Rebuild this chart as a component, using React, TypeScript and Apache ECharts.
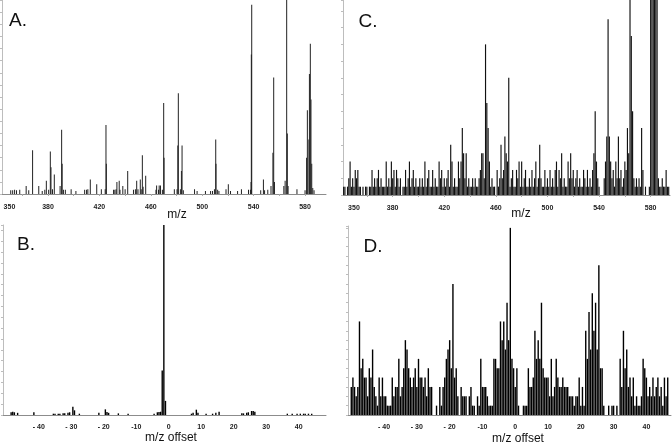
import React, { useEffect, useRef } from 'react';
import * as echarts from 'echarts';

// Panel A: [m/z, intensity]
const aPeaks: [number, number][] = [
  [351, 3], [352.5, 3], [354, 3.5], [355.5, 3], [358, 3.5],
  [363, 6.5], [365, 3], [368, 36], [372.8, 6.5], [375.5, 2.5],
  [377.5, 3.5], [378.7, 11], [380.5, 3.5], [381.8, 35], [382.3, 22], [383.5, 4], [384.9, 16],
  [389.4, 6.5], [390.6, 53], [391, 25], [392, 3.5], [393.5, 3.5],
  [398, 4], [401.7, 2.5], [408.5, 3.5], [410, 3.5], [411, 4], [412.9, 12],
  [417.9, 8], [421.5, 4], [424.5, 4], [425.1, 57], [425.4, 25],
  [431, 3.5], [432, 3.5], [433, 4], [433.6, 10], [435.4, 11], [436, 3.5], [438.2, 6.5], [440, 4], [442, 19],
  [446.5, 3.5], [448, 4], [449, 11], [450, 4], [451.8, 12], [452.5, 4], [453.4, 32], [454, 6], [456, 15],
  [464, 3.5], [464.5, 7], [466, 3.5], [466.5, 7], [467.5, 7], [469, 3.5], [470, 75], [470.3, 30],
  [478.3, 4], [480.4, 4], [481, 40], [481.4, 83], [483, 4], [483.8, 19], [484.3, 40], [485.3, 3],
  [494, 4], [496, 2.5], [502.5, 2.5],
  [506.5, 2.5], [508, 2.5], [509.5, 4], [510.5, 45], [510.7, 25], [512, 3.5], [513, 2.5],
  [518.5, 4], [520.3, 8], [522, 2.5], [527.5, 2.5], [530.5, 4],
  [536, 3.5], [537.5, 3.5], [538, 10], [538.2, 115], [538.5, 156],
  [545.5, 3], [547.6, 12], [548.5, 3],
  [551, 3.5], [553.5, 6.5], [555, 34], [555.6, 96], [556.2, 10],
  [563.5, 6.5], [564.5, 11], [565.7, 170], [566.2, 50], [566.8, 6.5],
  [573.7, 4],
  [580, 3], [581.2, 30], [581.8, 69], [583, 45], [583.4, 99], [584.1, 124], [584.6, 78], [585.2, 25], [586, 5], [587, 3],
];

// Panel C: counts per integer m/z starting at cStart
const cStart = 342;
const cCounts = [
  1, 1, 0, 1, 2, 4, 1, 2, 1, 3,
  2, 3, 1, 1, 0, 1, 0, 1, 1, 0,
  1, 1, 3, 1, 2, 1, 2, 3, 1, 2,
  1, 1, 1, 4, 1, 2, 1, 4, 2, 3,
  1, 3, 2, 1, 2, 0, 1, 1, 3, 1,
  2, 4, 1, 2, 3, 1, 2, 1, 1, 2,
  1, 2, 1, 4, 1, 2, 3, 1, 1, 3,
  1, 2, 1, 1, 4, 2, 3, 1, 2, 1,
  2, 3, 1, 6, 4, 1, 2, 1, 1, 4,
  2, 4, 8, 5, 2, 5, 1, 2, 1, 1,
  2, 1, 2, 1, 1, 2, 3, 5, 5, 2,
  18, 11, 8, 4, 1, 2, 1, 1, 0, 3,
  1, 2, 6, 2, 3, 7, 5, 4, 14, 1,
  2, 3, 1, 1, 3, 2, 4, 1, 4, 1,
  2, 3, 1, 1, 2, 1, 3, 1, 2, 4,
  1, 2, 6, 2, 1, 1, 3, 1, 2, 1,
  3, 1, 2, 1, 3, 4, 1, 3, 2, 5,
  1, 2, 1, 1, 4, 2, 5, 2, 3, 1,
  2, 3, 1, 2, 1, 1, 3, 2, 1, 3,
  1, 2, 1, 3, 5, 10, 4, 2, 1, 0,
  0, 0, 2, 4, 7, 21, 7, 4, 2, 3,
  1, 4, 2, 7, 2, 3, 1, 2, 4, 3,
  8, 5, 24, 19, 10, 2, 1, 2, 1, 2,
  1, 8, 3, 0, 1, 0, 0, 1, 24, 24,
  24, 24, 24, 24, 2, 1, 1, 2, 1, 1,
  3, 1, 1, 0,
];

// Panels B and D: offset bins
const offsetStart = -50;
const offsetStep = 0.5;
const dCounts = [
  3, 4, 3, 2, 3, 10, 5, 6, 4, 4,
  2, 5, 4, 7, 3, 2, 1, 4, 2, 4,
  2, 2, 1, 1, 1, 4, 2, 3, 3, 6,
  2, 3, 5, 8, 7, 5, 4, 3, 4, 5,
  3, 6, 4, 4, 3, 4, 2, 5, 3, 3,
  0, 0, 1, 0, 3, 1, 3, 4, 6, 7,
  8, 5, 14, 4, 5, 2, 0, 3, 2, 2,
  2, 0, 2, 3, 1, 1, 0, 2, 1, 6,
  3, 3, 3, 2, 1, 1, 1, 6, 6, 5,
  5, 10, 8, 10, 7,
  12, 8, 20, 6, 5, 3, 5, 1, 0, 0,
  1, 1, 1, 5, 3, 3, 4, 9, 6, 8,
  6, 12, 5, 4, 4, 4, 2, 6, 2, 3,
  6, 4, 3, 3, 4, 3, 3, 3, 2, 2,
  2, 1, 2, 2, 4, 1, 3, 1, 9, 6,
  11, 7, 13, 9, 12, 7, 16, 5, 5, 1,
  0, 0, 1, 0, 1, 1, 0, 1, 0, 6,
  3, 9, 5, 7, 3, 4, 2, 4, 1, 2,
  1, 1, 2, 6, 5, 4, 2, 3, 2, 4,
  2, 3, 4, 2, 3, 1, 4, 2, 4,
];

// Panel B: [offset, intensity]
const bPeaks: [number, number][] = [
  [-48.5, 2.5], [-48, 3], [-47.5, 2.5], [-46.5, 2], [-41.5, 2.5],
  [-35.5, 1.2], [-35, 1.2], [-34, 1.2], [-33.5, 1.2], [-32.5, 1.5], [-32, 1.5], [-31, 2], [-30.5, 2.5],
  [-29.5, 7.6], [-29, 4.3], [-27.5, 1.2],
  [-21.5, 2], [-19.5, 5.2], [-19, 2.8], [-18.5, 2], [-15.5, 1.5], [-12.5, 1.2],
  [-4.5, 1.2], [-3.5, 2.5], [-3, 2.8], [-2.5, 3], [-2, 41], [-1.5, 175], [-1, 13],
  [7, 1.2], [7.5, 2], [8.5, 4.9], [9, 2], [11.5, 1.2], [13.5, 1.2], [14.5, 2], [15.5, 3],
  [22.5, 1.5], [23, 1.5], [24, 2], [24.5, 2.5], [25.5, 3.7], [26, 3.7], [26.5, 3],
  [36.5, 1.2], [38, 1.2], [39.5, 1.2], [40.5, 1.2], [41.5, 1.2], [42, 1.2], [43, 1.2], [44, 1.2],
];

const mzTickLabels = [350, 380, 420, 460, 500, 540, 580];
const mzTickMarks = [360, 380, 400, 420, 440, 460, 480, 500, 520, 540, 560, 580];
const offsetTickValues = [-40, -30, -20, -10, 0, 10, 20, 30, 40];
const offsetTickLabels = ['- 40', '- 30', '- 20', '-10', '0', '10', '20', '30', '40'];

const FONT = "'Liberation Sans', Arial, sans-serif";

export default function App() {
  const ref = useRef<HTMLDivElement>(null);
  useEffect(() => {
    document.body.style.margin = '0';
    if (!ref.current) return;
    const chart = echarts.init(ref.current, null, { renderer: 'svg' });

    const yAxisBase = (max: number, interval: number, gridIndex: number) => ({
      type: 'value', gridIndex, min: 0, max, interval,
      axisLine: { show: true, onZero: false, lineStyle: { color: '#bdbdbd', width: 1 } },
      axisTick: { show: true, length: 2, lineStyle: { color: '#bdbdbd' } },
      axisLabel: { show: false },
      splitLine: { show: false },
    });
    const mzXAxis = (min: number, max: number, gridIndex: number) => ({
      type: 'value', gridIndex, min, max,
      axisLine: { show: true, onZero: false, lineStyle: { color: '#8c8c8c', width: 1 } },
      axisTick: { show: true, customValues: mzTickMarks, length: 2, lineStyle: { color: '#aaa' } },
      axisLabel: { customValues: mzTickLabels, fontSize: 7, fontWeight: 'bold', color: '#222', fontFamily: FONT, margin: 9 },
      splitLine: { show: false },
    });
    const offXAxis = (min: number, max: number, gridIndex: number) => ({
      type: 'value', gridIndex, min, max,
      axisLine: { show: true, onZero: false, lineStyle: { color: '#8c8c8c', width: 1 } },
      axisTick: { show: false },
      axisLabel: {
        customValues: offsetTickValues, fontSize: 7, fontWeight: 'bold', color: '#222', fontFamily: FONT, margin: 8,
        formatter: (v: number) => {
          const i = offsetTickValues.indexOf(v);
          return i >= 0 ? offsetTickLabels[i] : '';
        },
      },
      splitLine: { show: false },
    });

    const txt = (text: string, x: number, y: number, size: number) => ({
      type: 'text', x, y, silent: true,
      style: { text, fontSize: size, fontFamily: FONT, fill: '#111', align: 'center', verticalAlign: 'middle' },
    });

    chart.setOption({
      animation: false,
      grid: [
        { left: 2, top: 0, width: 324, height: 194 },
        { left: 343, top: 0, width: 327, height: 195 },
        { left: 3, top: 225, width: 323, height: 190 },
        { left: 348, top: 226, width: 323, height: 189 },
      ],
      xAxis: [
        mzXAxis(344.2, 596.3, 0),
        mzXAxis(341.5, 595, 1),
        offXAxis(-51, 48.4, 2),
        offXAxis(-51, 47.5, 3),
      ],
      yAxis: [
        yAxisBase(160, 10, 0),
        yAxisBase(23.3, 2, 1),
        yAxisBase(175, 10, 2),
        yAxisBase(20.2, 1, 3),
      ],
      series: [
        { type: 'bar', xAxisIndex: 0, yAxisIndex: 0, data: aPeaks, barWidth: 1, itemStyle: { color: '#222' } },
        { type: 'bar', xAxisIndex: 1, yAxisIndex: 1, data: cCounts.map((v, i) => [cStart + i, v]), barWidth: 1.15, itemStyle: { color: '#111' } },
        { type: 'bar', xAxisIndex: 2, yAxisIndex: 2, data: bPeaks, barWidth: 1.4, itemStyle: { color: '#000' } },
        { type: 'bar', xAxisIndex: 3, yAxisIndex: 3, data: dCounts.map((v, i) => [offsetStart + i * offsetStep, v]), barWidth: 1.4, itemStyle: { color: '#000' } },
      ],
      graphic: [
        txt('A.', 18, 19, 19),
        txt('C.', 368, 20, 19),
        txt('B.', 26, 243, 19),
        txt('D.', 373, 245, 19),
        txt('m/z', 177, 214, 12),
        txt('m/z', 521, 213, 12),
        txt('m/z offset', 171, 437, 12),
        txt('m/z offset', 518, 438, 12),
      ],
    });
    return () => chart.dispose();
  }, []);
  return <div ref={ref} style={{ position: 'fixed', left: 0, top: 0, width: 672, height: 445 }} />;
}
